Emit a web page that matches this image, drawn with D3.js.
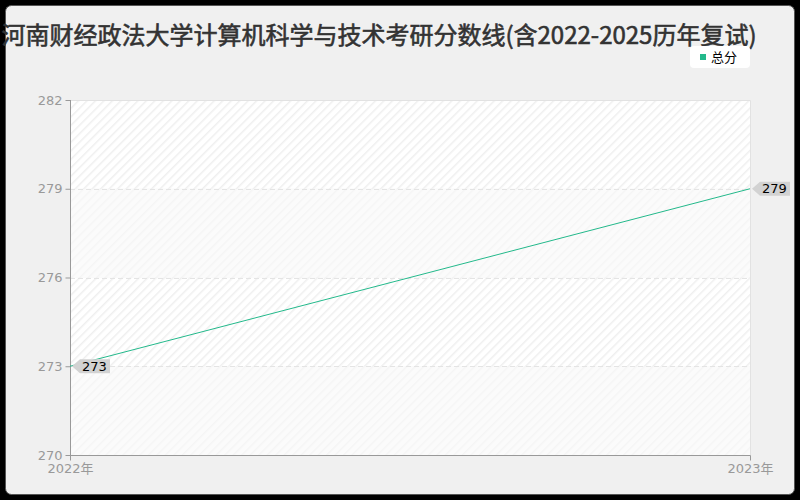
<!DOCTYPE html>
<html>
<head>
    <meta charset="utf-8" />
    <title>考研分数线</title>
    <script type="text/javascript" src="https://cdn.jsdelivr.net/npm/d3@7/dist/d3.min.js"></script>
    <style>
        body { margin: 0; background: #000; }
        svg { display: block; font-family: "Noto Sans CJK SC", "Noto Sans", sans-serif; }
    </style>
</head>
<body>
    <script type="text/javascript">

        // data
        var titleText = "河南财经政法大学计算机科学与技术考研分数线(含2022-2025历年复试)";
        var years = ["2022年", "2023年"];
        var totalScores = [273, 279];
        var seriesName = "总分";
        var yTicks = [270, 273, 276, 279, 282];

        var w = 800, h = 500;
        var plotLeft = 70, plotRight = 750, plotTop = 100, plotBottom = 455;
        var lineColor = "#23b98b";
        var numFont = "'DejaVu Sans', 'Noto Sans CJK SC', sans-serif";

        var svg = d3.select("body").append("svg")
            .attr("width", w)
            .attr("height", h);

        var defs = svg.append("defs");
        var pat1 = defs.append("pattern")
            .attr("id", "hatch")
            .attr("patternUnits", "userSpaceOnUse")
            .attr("width", 6).attr("height", 6)
            .attr("patternTransform", "rotate(45)");
        pat1.append("rect").attr("width", 6).attr("height", 6).attr("fill", "#ffffff");
        pat1.append("line").attr("x1", 0).attr("y1", 0).attr("x2", 0).attr("y2", 6)
            .attr("stroke", "#efefef").attr("stroke-width", 3);
        var pat2 = defs.append("pattern")
            .attr("id", "hatch2")
            .attr("patternUnits", "userSpaceOnUse")
            .attr("width", 6).attr("height", 6)
            .attr("patternTransform", "rotate(45)");
        pat2.append("rect").attr("width", 6).attr("height", 6).attr("fill", "#fbfbfb");
        pat2.append("line").attr("x1", 0).attr("y1", 0).attr("x2", 0).attr("y2", 6)
            .attr("stroke", "#f5f5f5").attr("stroke-width", 3);

        // background card
        svg.append("rect")
            .attr("x", 5.5).attr("y", 5.5)
            .attr("width", 789).attr("height", 489)
            .attr("rx", 6)
            .attr("fill", "#f0f0f0")
            .attr("stroke", "#555")
            .attr("stroke-width", 1);

        var xScale = d3.scalePoint()
            .domain(years)
            .range([plotLeft, plotRight]);

        var yScale = d3.scaleLinear()
            .domain([yTicks[0], yTicks[yTicks.length - 1]])
            .range([plotBottom, plotTop]);

        // alternating bands
        for (var i = 0; i < yTicks.length - 1; i++) {
            svg.append("rect")
                .attr("x", plotLeft)
                .attr("y", yScale(yTicks[i + 1]))
                .attr("width", plotRight - plotLeft)
                .attr("height", yScale(yTicks[i]) - yScale(yTicks[i + 1]))
                .attr("fill", (yTicks.length - 2 - i) % 2 === 0 ? "url(#hatch)" : "url(#hatch2)");
        }

        // plot frame (top and right)
        svg.append("path")
            .attr("d", "M" + plotLeft + "," + (plotTop + 0.5) + "H" + (plotRight + 0.5) + "V" + plotBottom)
            .attr("fill", "none")
            .attr("stroke", "#e2e2e2");

        // gridlines
        svg.append("g")
            .selectAll("line")
            .data(yTicks.slice(1, -1))
            .enter()
            .append("line")
            .attr("x1", plotLeft).attr("x2", plotRight)
            .attr("y1", function (d) { return Math.round(yScale(d)) + 0.5; })
            .attr("y2", function (d) { return Math.round(yScale(d)) + 0.5; })
            .attr("stroke", "#e4e4e4")
            .attr("stroke-dasharray", "5,3");

        // axes
        var yAxis = d3.axisLeft(yScale).tickValues(yTicks).tickSize(5).tickPadding(3);
        var xAxis = d3.axisBottom(xScale).tickSize(5).tickPadding(3);

        var gy = svg.append("g")
            .attr("transform", "translate(" + (plotLeft + 0.5) + ",0)")
            .call(yAxis);
        gy.select(".domain").attr("stroke", "#999").attr("d", "M0," + plotTop + "V" + plotBottom);
        gy.selectAll(".tick line").attr("stroke", "#999");
        gy.selectAll(".tick text").attr("fill", "#999").style("font-size", "13px")
            .style("font-family", numFont);

        var gx = svg.append("g")
            .attr("transform", "translate(0," + (plotBottom + 0.5) + ")")
            .call(xAxis);
        gx.select(".domain").attr("stroke", "#999").attr("d", "M" + plotLeft + ",0H" + (plotRight + 0.5));
        gx.selectAll(".tick line").attr("stroke", "#999");
        gx.selectAll(".tick text").attr("fill", "#999").style("font-size", "13px")
            .style("font-family", numFont);

        // line
        var line = d3.line()
            .x(function (d, i) { return xScale(years[i]); })
            .y(function (d) { return yScale(d); });

        svg.append("path")
            .datum(totalScores)
            .attr("d", line)
            .attr("fill", "none")
            .attr("stroke", lineColor)
            .attr("stroke-width", 1);

        // value labels
        var labels = svg.append("g")
            .selectAll("g")
            .data(totalScores)
            .enter()
            .append("g")
            .attr("transform", function (d, i) {
                return "translate(" + xScale(years[i]) + "," + yScale(d) + ")";
            });

        labels.append("path")
            .attr("d", "M2,0L10,-7H40V7H10Z")
            .attr("fill", "#d2d2d2");

        labels.append("text")
            .attr("x", 12)
            .attr("y", 4.5)
            .attr("fill", "#000")
            .style("font-size", "13px")
            .style("font-family", numFont)
            .text(function (d) { return d; });

        // title
        svg.append("text")
            .attr("x", 379)
            .attr("y", 44)
            .attr("text-anchor", "middle")
            .attr("fill", "#333")
            .attr("stroke", "#333")
            .attr("stroke-width", 0.6)
            .style("font-size", "24px")
            .style("font-weight", "normal")
            .text(titleText);

        // legend
        var lg = svg.append("g").attr("transform", "translate(690,46)");
        lg.append("rect")
            .attr("width", 60).attr("height", 22)
            .attr("rx", 4)
            .attr("fill", "#fff");
        lg.append("rect")
            .attr("x", 10).attr("y", 8)
            .attr("width", 6).attr("height", 6)
            .attr("fill", lineColor);
        lg.append("text")
            .attr("x", 21).attr("y", 15.5)
            .attr("fill", "#000")
            .style("font-size", "13px")
            .text(seriesName);

    </script>
</body>
</html>
